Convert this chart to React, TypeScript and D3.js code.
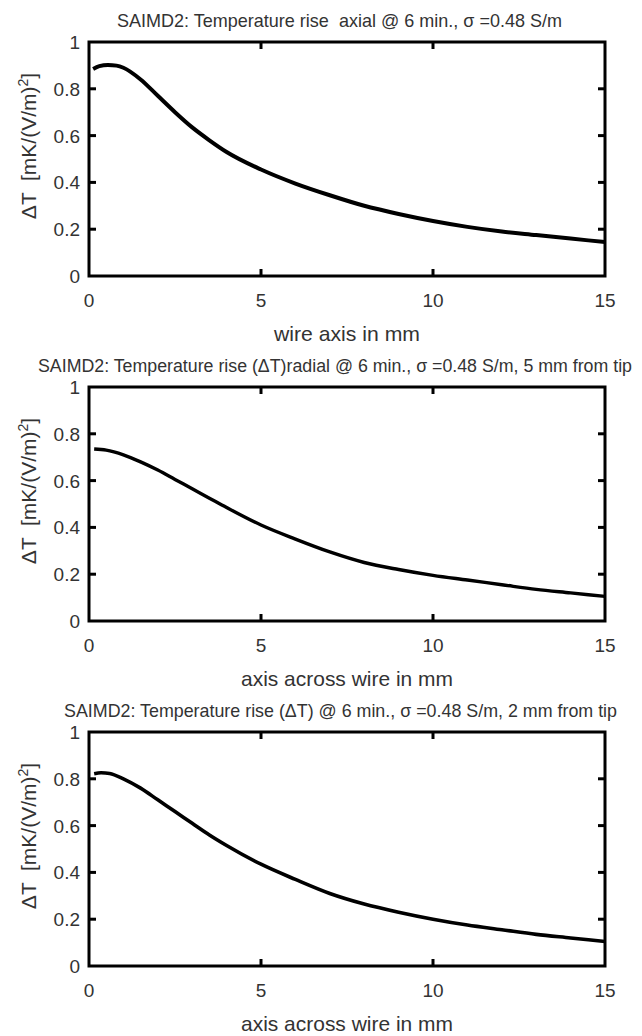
import React from "react";
import * as d3 from "d3";

// Distance along / across the wire in mm, and temperature rise per (V/m)^2
const axialX = [0.12, 0.3, 0.55, 0.8, 1, 1.5, 2, 2.5, 3, 3.5, 4, 5, 6, 7, 8, 9, 10, 11, 12, 13, 14, 15];
const axialY = [0.885, 0.897, 0.902, 0.899, 0.89, 0.84, 0.77, 0.7, 0.635, 0.58, 0.53, 0.455, 0.395, 0.345, 0.3, 0.265, 0.235, 0.21, 0.19, 0.175, 0.16, 0.145];

const radial5X = [0.15, 0.5, 1, 1.5, 2, 2.5, 3, 3.5, 4, 5, 6, 7, 8, 9, 10, 11, 12, 13, 14, 15];
const radial5Y = [0.735, 0.73, 0.71, 0.68, 0.645, 0.605, 0.565, 0.525, 0.485, 0.41, 0.35, 0.295, 0.25, 0.22, 0.195, 0.175, 0.155, 0.135, 0.12, 0.105];

const radial2X = [0.15, 0.35, 0.6, 1, 1.5, 2, 2.5, 3, 3.5, 4, 5, 6, 7, 8, 9, 10, 11, 12, 13, 14, 15];
const radial2Y = [0.822, 0.826, 0.823, 0.8, 0.76, 0.71, 0.66, 0.61, 0.56, 0.515, 0.435, 0.37, 0.31, 0.265, 0.23, 0.2, 0.175, 0.155, 0.135, 0.12, 0.105];

const xTicks = [0, 5, 10, 15];
const yTicks = [0, 0.2, 0.4, 0.6, 0.8, 1];

const titles = [
  "SAIMD2: Temperature rise  axial @ 6 min., \u03c3 =0.48 S/m",
  "SAIMD2: Temperature rise (\u0394T)radial @ 6 min., \u03c3 =0.48 S/m, 5 mm from tip",
  "SAIMD2: Temperature rise (\u0394T) @ 6 min., \u03c3 =0.48 S/m, 2 mm from tip",
];
const xLabels = ["wire axis in mm", "axis across wire in mm", "axis across wire in mm"];

const panels = [
  { xs: axialX, ys: axialY, title: titles[0], xLabel: xLabels[0], titleX: [117, 562], titleSize: 18.5, xLabelW: 146, width: 4 },
  { xs: radial5X, ys: radial5Y, title: titles[1], xLabel: xLabels[1], titleX: [38, 632], titleSize: 17.5, xLabelW: 212, width: 3.4 },
  { xs: radial2X, ys: radial2Y, title: titles[2], xLabel: xLabels[2], titleX: [64, 617], titleSize: 18.5, xLabelW: 212, width: 3.6 },
];

const W = 642;
const H = 1036;
const left = 89;
const right = 605;
const plotTop = 42;
const plotH = 234;
const step = 345;
const font = "'Liberation Sans', Arial, Helvetica, sans-serif";
const textColor = "#333";

function Panel({ p, i }: { p: (typeof panels)[number]; i: number }) {
  const top = plotTop + i * step;
  const bottom = top + plotH;
  const x = d3.scaleLinear().domain([0, 15]).range([left, right]);
  const y = d3.scaleLinear().domain([0, 1]).range([bottom, top]);
  const pts: [number, number][] = p.xs.map((v, k) => [v, p.ys[k]]);
  const line = d3
    .line<[number, number]>()
    .x((d) => x(d[0]))
    .y((d) => y(d[1]))
    .curve(d3.curveMonotoneX);
  const tickLen = 7;
  const cx = (left + right) / 2;
  return (
    <g>
      <text
        x={p.titleX[0]}
        y={top - 15}
        fontSize={p.titleSize}
        fontFamily={font}
        fill={textColor}
        textLength={p.titleX[1] - p.titleX[0]}
        lengthAdjust="spacingAndGlyphs"
        style={{ whiteSpace: "pre" }}
      >
        {p.title}
      </text>
      <path d={line(pts) ?? ""} fill="none" stroke="#000" strokeWidth={p.width} strokeLinejoin="round" />
      {xTicks.slice(1, -1).map((t) => (
        <g key={"xt" + t}>
          <line x1={x(t)} x2={x(t)} y1={bottom} y2={bottom - tickLen} stroke="#000" strokeWidth={3} />
          <line x1={x(t)} x2={x(t)} y1={top} y2={top + tickLen} stroke="#000" strokeWidth={3} />
        </g>
      ))}
      {yTicks.slice(1, -1).map((t) => (
        <g key={"yt" + t}>
          <line x1={left} x2={left + tickLen} y1={y(t)} y2={y(t)} stroke="#000" strokeWidth={3} />
          <line x1={right} x2={right - tickLen} y1={y(t)} y2={y(t)} stroke="#000" strokeWidth={3} />
        </g>
      ))}
      <rect x={left} y={top} width={right - left} height={plotH} fill="none" stroke="#000" strokeWidth={3} />
      {xTicks.map((t) => (
        <text key={"xl" + t} x={x(t)} y={bottom + 31} textAnchor="middle" fontSize={19} fontFamily={font} fill={textColor}>
          {d3.format("d")(t)}
        </text>
      ))}
      {yTicks.map((t) => (
        <text key={"yl" + t} x={left - 9} y={y(t) + 7} textAnchor="end" fontSize={19} fontFamily={font} fill={textColor}>
          {t === 0 || t === 1 ? String(t) : d3.format(".1f")(t)}
        </text>
      ))}
      <text
        x={cx - p.xLabelW / 2}
        y={bottom + 65}
        fontSize={21}
        fontFamily={font}
        fill={textColor}
        textLength={p.xLabelW}
        lengthAdjust="spacingAndGlyphs"
      >
        {p.xLabel}
      </text>
      <text
        transform={`translate(36,${top + 104}) rotate(-90)`}
        textAnchor="middle"
        fontSize={21}
        fontFamily={font}
        fill={textColor}
        style={{ whiteSpace: "pre" }}
      >
        {"\u0394T  [mK/(V/m)"}
        <tspan dy={-8} fontSize={14}>2</tspan>
        <tspan dy={8}>]</tspan>
      </text>
    </g>
  );
}

export default function App() {
  return (
    <svg
      width={W}
      height={H}
      viewBox={`0 0 ${W} ${H}`}
      style={{ position: "absolute", left: 0, top: 0, background: "#fff" }}
    >
      <rect width={W} height={H} fill="#fff" />
      {panels.map((p, i) => (
        <Panel key={i} p={p} i={i} />
      ))}
    </svg>
  );
}
